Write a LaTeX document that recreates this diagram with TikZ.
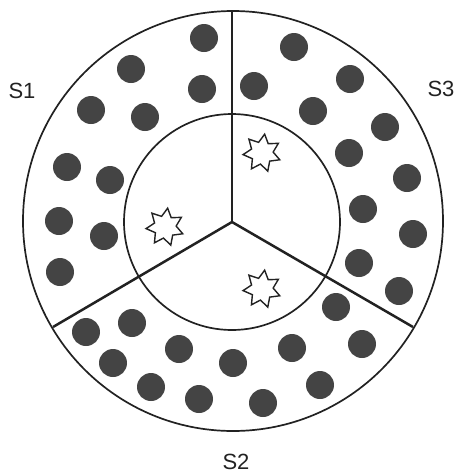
\documentclass[tikz,border=0pt]{standalone}
\usepackage{fontspec}
\setmainfont{Liberation Sans}
\usetikzlibrary{shapes.geometric}
\definecolor{ink}{HTML}{222222}
\definecolor{dotc}{HTML}{444444}
\tikzset{
  ring/.style={draw=ink, line width=1.7pt},
  spoke/.style={draw=ink, line width=2.5pt},
  dotmark/.style={circle, fill=dotc, inner sep=0pt, minimum size=28pt},
  starmark/.style={star, star points=7, star point ratio=1.7, draw=ink, fill=white,
    line width=1.4pt, inner sep=0pt, minimum size=38pt, rotate=-8},
  lab/.style={font=\fontsize{22}{26}\selectfont, text=ink}
}
\begin{document}
\begin{tikzpicture}[x=1pt,y=-1pt]
\useasboundingbox (0,0) rectangle (458,475);
\coordinate (c) at (232,222);
\draw[ring] (233,221) circle[radius=210pt];
\draw[ring] (232,222) circle[radius=108pt];
\coordinate (top) at (232,11);
\coordinate (ll) at (53,327);
\coordinate (lr) at (413,327);
\draw[spoke] (c) -- (top);
\draw[spoke] (c) -- (ll);
\draw[spoke] (c) -- (lr);
% S1 dots
\foreach \p [count=\i] in {(204,38),(131,69),(202,89),(91,110),(145,117),(67,167),(110,180),(59,221),(104,236),(60,272)}
  \node[dotmark] (a\i) at \p {};
% S2 dots
\foreach \p [count=\i] in {(86,332),(132,323),(113,363),(179,349),(151,387),(199,399),(233,363),(263,403),(292,348),(320,385),(336,307),(362,344)}
  \node[dotmark] (b\i) at \p {};
% S3 dots
\foreach \p [count=\i] in {(294,47),(254,86),(350,79),(313,111),(385,127),(349,153),(407,178),(363,209),(413,234),(359,263),(399,291)}
  \node[dotmark] (d\i) at \p {};
% stars
\node[starmark] (s1) at (165,227) {};
\node[starmark] (s2) at (262,289) {};
\node[starmark] (s3) at (262,153) {};
% labels
\node[lab] (l1) at (22,91) {S1};
\node[lab] (l2) at (236,462) {S2};
\node[lab] (l3) at (441,89) {S3};
\end{tikzpicture}
\end{document}
